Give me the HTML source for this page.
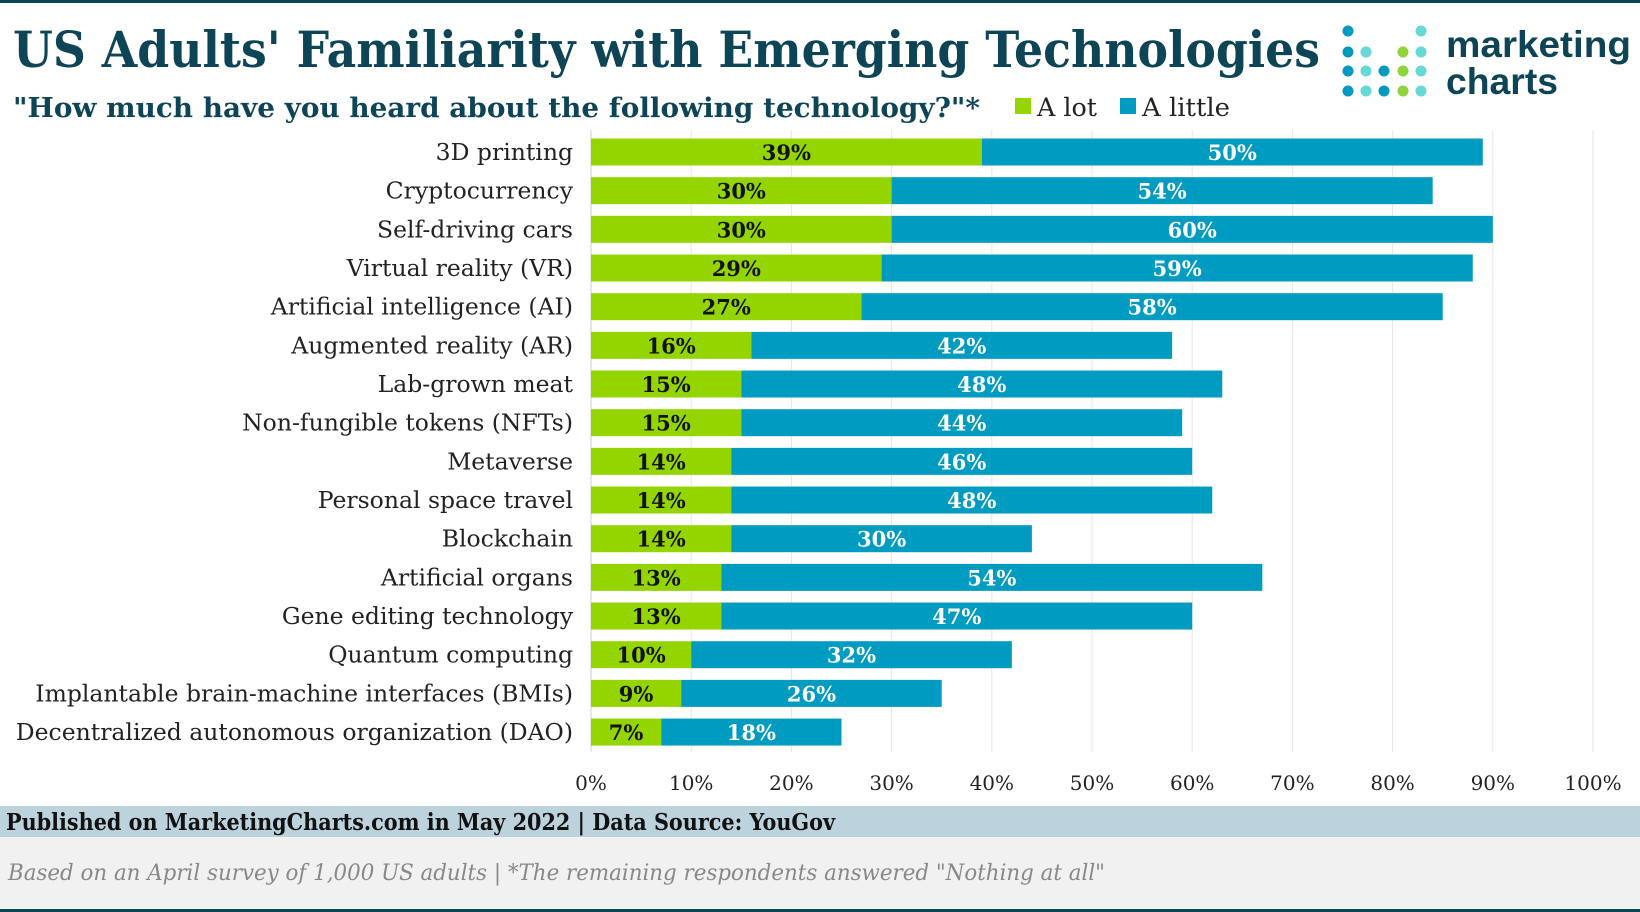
<!DOCTYPE html>
<html><head><meta charset="utf-8"><style>
html,body{margin:0;padding:0;background:#fff;}
svg{display:block;font-family:"DejaVu Serif","Liberation Serif",serif;}
</style></head><body>
<svg id="chart" width="1640" height="912" viewBox="0 0 1640 912" xmlns="http://www.w3.org/2000/svg">
<rect x="0" y="0" width="1640" height="3" fill="#0d4456"/>
<text x="13" y="67" font-size="50" font-weight="bold" fill="#0d4456" textLength="1307" lengthAdjust="spacingAndGlyphs">US Adults' Familiarity with Emerging Technologies</text>
<text x="13" y="117" font-size="27" font-weight="bold" fill="#0d4456" textLength="967" lengthAdjust="spacingAndGlyphs">"How much have you heard about the following technology?"*</text>
<rect x="1015" y="98" width="16" height="16" fill="#94d500"/>
<text x="1037" y="116" font-size="25" fill="#222" textLength="60" lengthAdjust="spacingAndGlyphs">A lot</text>
<rect x="1120" y="98" width="16" height="16" fill="#009bc1"/>
<text x="1142" y="116" font-size="25" fill="#222" textLength="88" lengthAdjust="spacingAndGlyphs">A little</text>
<g id="logo"></g>
<text x="1446" y="57" font-family="Liberation Sans, sans-serif" font-size="37" font-weight="bold" fill="#0d4456" textLength="185" lengthAdjust="spacingAndGlyphs">marketing</text>
<text x="1446" y="94" font-family="Liberation Sans, sans-serif" font-size="37" font-weight="bold" fill="#0d4456" textLength="112" lengthAdjust="spacingAndGlyphs">charts</text>
<g id="grid"></g><g id="bars"></g><g id="labels"></g><g id="ticks"></g>
<rect x="0" y="806" width="1640" height="31" fill="#bcd3de"/>
<text x="6" y="830" font-size="23" font-weight="bold" fill="#111" textLength="829" lengthAdjust="spacingAndGlyphs">Published on MarketingCharts.com in May 2022 | Data Source: YouGov</text>
<rect x="0" y="837" width="1640" height="72" fill="#f1f1f1"/>
<text x="8" y="880" font-size="22" font-style="italic" fill="#888" textLength="1097" lengthAdjust="spacingAndGlyphs">Based on an April survey of 1,000 US adults | *The remaining respondents answered "Nothing at all"</text>
<rect x="0" y="909" width="1640" height="3" fill="#0d4456"/>
</svg>
<script>
const categories=["3D printing","Cryptocurrency","Self-driving cars","Virtual reality (VR)","Artificial intelligence (AI)","Augmented reality (AR)","Lab-grown meat","Non-fungible tokens (NFTs)","Metaverse","Personal space travel","Blockchain","Artificial organs","Gene editing technology","Quantum computing","Implantable brain-machine interfaces (BMIs)","Decentralized autonomous organization (DAO)"];
const aLot=[39,30,30,29,27,16,15,15,14,14,14,13,13,10,9,7];
const aLittle=[50,54,60,59,58,42,48,44,46,48,30,54,47,32,26,18];
const tickValues=[0,10,20,30,40,50,60,70,80,90,100];
const NS="http://www.w3.org/2000/svg";
const x0=591,x1=1593,yTop=152,step=38.67,bh=27;
const xs=v=>x0+(x1-x0)*v/100;
const ys=i=>yTop+i*step;
function mk(tag,attrs,parent,txt){const e=document.createElementNS(NS,tag);for(const k in attrs)e.setAttribute(k,attrs[k]);if(txt!==undefined)e.textContent=txt;parent.appendChild(e);return e;}
const grid=document.getElementById('grid'),bars=document.getElementById('bars'),labels=document.getElementById('labels'),ticks=document.getElementById('ticks');
tickValues.forEach(t=>{
  const l=mk('line',{x1:xs(t),x2:xs(t),y1:130,y2:752,stroke:'#e6e6e6','stroke-width':1},grid);
  
  
  const tx=mk('text',{x:xs(t),y:790,'text-anchor':'middle','font-size':20,fill:'#222'},ticks,t+'%');
  
  
});
const ax=mk('line',{x1:x0,x2:x0,y1:130,y2:752,stroke:'#ccc','stroke-width':1},grid);


categories.forEach((c,i)=>{
  const cy=ys(i);
  const lab=mk('text',{x:573,y:cy+8,'text-anchor':'end','font-size':23.5,fill:'#222'},labels,c);
  
  
  const b1=mk('rect',{x:xs(0),y:cy-bh/2,width:xs(aLot[i])-xs(0),height:bh,fill:'#94d500'},bars);
  
  
  const b2=mk('rect',{x:xs(aLot[i]),y:cy-bh/2,width:xs(aLot[i]+aLittle[i])-xs(aLot[i]),height:bh,fill:'#009bc1'},bars);
  
  
  const v1=mk('text',{x:(xs(0)+xs(aLot[i]))/2,y:cy+8,'text-anchor':'middle','font-size':21,'font-weight':'bold',fill:'#111'},labels,aLot[i]+'%');
  
  
  const v2=mk('text',{x:(xs(aLot[i])+xs(aLot[i]+aLittle[i]))/2,y:cy+8,'text-anchor':'middle','font-size':21,'font-weight':'bold',fill:'#fff'},labels,aLittle[i]+'%');
  
  
});
const logo=document.getElementById('logo');
const dotX=[1348,1366,1384,1403,1421],dotY=[31,52,71,91];
const B='#0099c0',T='#66d9d6',G='#8fd43b';
const pattern=[[B,null,null,null,T],[B,T,null,G,T],[B,T,B,G,T],[B,T,B,G,T]];
pattern.forEach((row,r)=>row.forEach((col,c)=>{if(!col)return;
  const d=mk('circle',{cx:dotX[c],cy:dotY[r],r:5.5,fill:col},logo);
  
  
}));
</script>
</body></html>
